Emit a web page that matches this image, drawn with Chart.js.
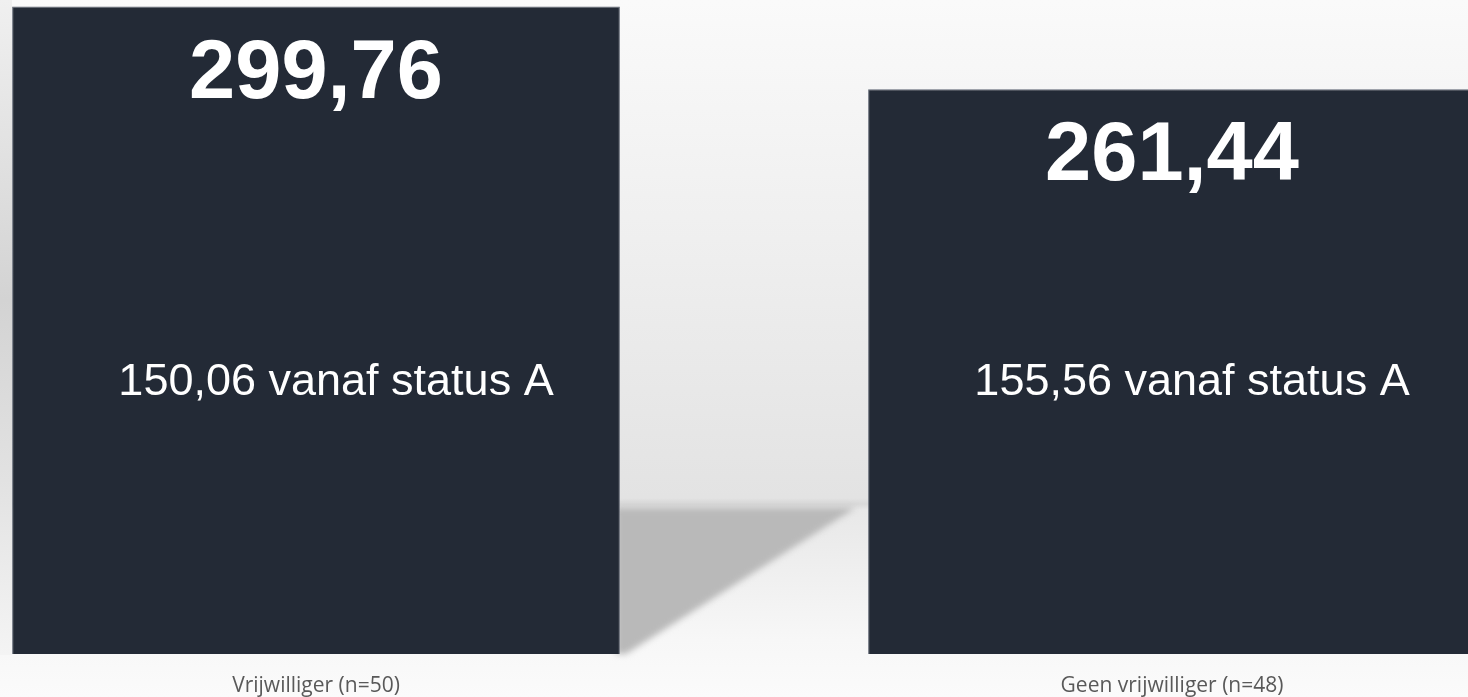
<!DOCTYPE html>
<html>
<head>
<meta charset="utf-8">
<script src="https://cdn.jsdelivr.net/npm/chart.js@4"></script>
<style>
  html, body { margin: 0; padding: 0; }
  body {
    width: 1468px; height: 697px; overflow: hidden; position: relative;
    background: linear-gradient(to bottom, #fafafa 0px, #e3e3e3 498px, #d9d9d9 504px,
      #e8e8e8 510px, #f7f7f7 640px, #fbfbfb 697px);
  }
  .edge {
    position: absolute; left: 0; top: 0; width: 12px; height: 655px;
    background: linear-gradient(to bottom, #f0f0f0 0px, #d3d3d3 300px, #e2e2e2 480px, #f4f4f4 655px);
  }
  .wrap { position: absolute; left: -112px; top: 0; width: 1712px; height: 697px; }
</style>
</head>
<body>
<div class="edge"></div>
<div class="wrap"><canvas id="chart" width="1712" height="697"></canvas></div>
<script>
const categories = ["Vrijwilliger (n=50)", "Geen vrijwilliger (n=48)"];
const totals = [299.76, 261.44];
const fromStatusA = [150.06, 155.56];

const fmt = v => v.toFixed(2).replace(".", ",");

// cast shadow of the first bar on the floor + value labels
const barDecor = {
  id: "barDecor",
  beforeDatasetsDraw(chart) {
    const { ctx, chartArea } = chart;
    const bar = chart.getDatasetMeta(0).data[0];
    const right = bar.x + bar.width / 2;
    const horizon = chartArea.bottom - (chartArea.bottom - chartArea.top) * 0.226;
    ctx.save();
    ctx.filter = "blur(3px)";
    ctx.fillStyle = "#b9b9b9";
    ctx.beginPath();
    ctx.moveTo(right - 4, horizon);
    ctx.lineTo(right + 236, horizon);
    ctx.lineTo(right + 6, bar.base);
    ctx.lineTo(right - 4, bar.base);
    ctx.closePath();
    ctx.fill();
    ctx.restore();
  },
  afterDatasetsDraw(chart) {
    const { ctx, chartArea } = chart;
    ctx.save();
    ctx.fillStyle = "#ffffff";
    ctx.textAlign = "center";
    ctx.textBaseline = "alphabetic";
    chart.getDatasetMeta(0).data.forEach((bar, i) => {
      ctx.font = "bold 83px 'Liberation Sans', Arial, sans-serif";
      ctx.fillText(fmt(totals[i]), bar.x, bar.y + 91);
      ctx.font = "45px 'Liberation Sans', Arial, sans-serif";
      const y = chartArea.top + (chartArea.bottom - chartArea.top) * 0.6;
      ctx.fillText(fmt(fromStatusA[i]) + " vanaf status A", bar.x + 20, y);
    });
    ctx.restore();
  }
};

new Chart(document.getElementById("chart"), {
  type: "bar",
  data: {
    labels: categories,
    datasets: [{
      data: totals,
      backgroundColor: "#232a36",
      borderColor: "#5f6673",
      borderWidth: 1,
      categoryPercentage: 1,
      barPercentage: 0.71
    }]
  },
  options: {
    responsive: false,
    animation: false,
    devicePixelRatio: 1,
    layout: { padding: { top: 6, left: 0, right: 0, bottom: 0 } },
    plugins: { legend: { display: false }, tooltip: { enabled: false } },
    scales: {
      y: { display: false, min: 0, max: 300 },
      x: {
        grid: { display: false, drawTicks: false },
        border: { display: false },
        afterFit(scale) { scale.height = 43; },
        ticks: {
          padding: 19,
          color: "#595959",
          font: { family: "'Open Sans', sans-serif", size: 21 }
        }
      }
    }
  },
  plugins: [barDecor]
});
</script>
</body>
</html>
